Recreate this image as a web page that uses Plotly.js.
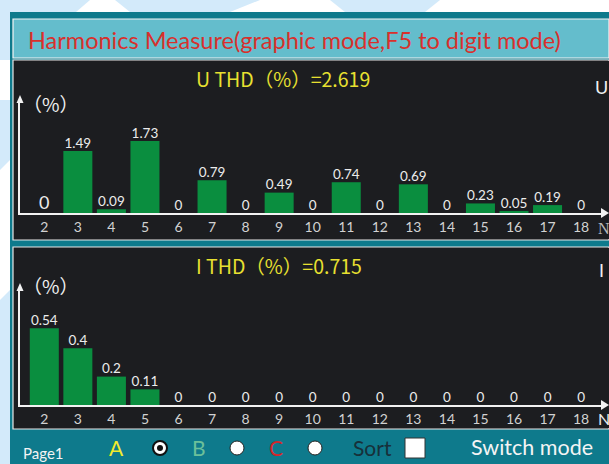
<!DOCTYPE html>
<html>
<head>
<meta charset="utf-8">
<script src="https://cdn.plot.ly/plotly-3.0.1.min.js"></script>
<style>html,body{margin:0;padding:0;background:#fff;}#chart{width:609px;height:464px;}</style>
</head>
<body>
<div id="chart"></div>
<script>
// ---- data ----
const harmonicOrders = [2,3,4,5,6,7,8,9,10,11,12,13,14,15,16,17,18];
const voltageHarmonics = [0,1.49,0.09,1.73,0,0.79,0,0.49,0,0.74,0,0.69,0,0.23,0.05,0.19,0];
const currentHarmonics = [0.54,0.4,0.2,0.11,0,0,0,0,0,0,0,0,0,0,0,0,0];
const tickLabels = ['2','3','4','5','6','7','8','9','10','11','12','13','14','15','16','17','18'];
const uThd = '2.619';
const iThd = '0.715';

// ---- geometry helpers (pixel -> paper) ----
const W = 609, H = 464;
const fx = p => p / W;
const fy = p => 1 - p / H;

const GREEN = '#0a8e3f';
const DARK = '#1c1d20';
const TEAL = '#0e7a8c';
const LTEAL = '#64bdcc';
const YEL = '#e8e030';
const LAT = 'Lato, "Noto Sans", sans-serif';
const CJK = '"Noto Sans CJK SC", Lato, sans-serif';

// x scale: order 2 at 44.3px, 33.55 px per order, axis from 20px to 601px
const x0px = 44.3, step = 33.55;
const xRange = [2 - (x0px - 20) / step, 2 + (601 - x0px) / step];

const upLabelSizes = voltageHarmonics.map((v, i) => i === 0 ? 18 : 13.5);

const traces = [
  {type:'bar', x: harmonicOrders, y: voltageHarmonics, xaxis:'x', yaxis:'y',
   marker:{color:GREEN, line:{width:0}}, hoverinfo:'skip'},
  {type:'scatter', mode:'text', x: harmonicOrders, y: voltageHarmonics, xaxis:'x', yaxis:'y',
   text: voltageHarmonics.map(String), textposition:'top center', cliponaxis:false,
   textfont:{color:'#ececec', size: upLabelSizes, family: LAT}, hoverinfo:'skip'},
  {type:'bar', x: harmonicOrders, y: currentHarmonics, xaxis:'x2', yaxis:'y2',
   marker:{color:GREEN, line:{width:0}}, hoverinfo:'skip'},
  {type:'scatter', mode:'text', x: harmonicOrders, y: currentHarmonics, xaxis:'x2', yaxis:'y2',
   text: currentHarmonics.map(String), textposition:'top center', cliponaxis:false,
   textfont:{color:'#ececec', size: 13.5, family: LAT}, hoverinfo:'skip'}
];

function xax(anchor) {
  return {domain:[fx(20), fx(601)], range:xRange, anchor:anchor, showgrid:false, zeroline:false,
    showline:true, linecolor:'#f2f2f2', linewidth:2, layer:'below traces',
    tickmode:'array', tickvals:harmonicOrders, ticktext:tickLabels, ticks:'',
    ticklabelstandoff:0,
    tickfont:{color:'#d2d2d2', size:14, family:LAT}, fixedrange:true};
}
function yax(anchor, d0, d1, rmax) {
  return {domain:[fy(d0), fy(d1)], range:[0, rmax], anchor:anchor, showgrid:false, zeroline:false,
    showline:true, linecolor:'#f2f2f2', linewidth:2, layer:'below traces',
    showticklabels:false, ticks:'', fixedrange:true};
}

const shapes = [];
function rect(x0,y0,x1,y1,fill,line,lw){shapes.push({type:'rect',xref:'paper',yref:'paper',x0:fx(x0),x1:fx(x1),y0:fy(y1),y1:fy(y0),fillcolor:fill,line:{color:line||fill,width:lw||0},layer:'below'});}
function poly(pts,fill,layer){shapes.push({type:'path',xref:'paper',yref:'paper',path:'M'+pts.map(p=>fx(p[0])+','+fy(p[1])).join('L')+'Z',fillcolor:fill,line:{width:0},layer:layer||'below'});}
function circ(cx,cy,r,fill,line,lw){shapes.push({type:'circle',xref:'paper',yref:'paper',x0:fx(cx-r),x1:fx(cx+r),y0:fy(cy+r),y1:fy(cy-r),fillcolor:fill,line:{color:line,width:lw},layer:'above'});}

// watermark background
poly([[0,0],[90,0],[20,60],[0,60]],'#d3eafa');
poly([[115,0],[260,0],[230,12],[130,12]],'#d3eafa');
poly([[330,0],[440,0],[425,12],[345,12]],'#d3eafa');
poly([[0,100],[10,100],[10,160],[0,170]],'#d3eafa');
poly([[0,300],[10,290],[10,464],[0,464]],'#d3eafa');
// frame
rect(10,12,609,464,TEAL);
rect(13,19,609,58,LTEAL,'#f4f4f4',1.2);
rect(13,60,609,240,DARK,'#e8e8e8',1.2);
rect(13,247,609,429,DARK,'#e8e8e8',1.2);
rect(14,61,609,239,DARK);
rect(14,248,609,428,DARK);
// arrow heads
poly([[601,208],[609,213],[601,218]],'#f2f2f2','above');
poly([[16.5,103],[20,95],[23.5,103]],'#f2f2f2','above');
poly([[601,400],[609,405],[601,410]],'#f2f2f2','above');
poly([[16.5,291],[20,283],[23.5,291]],'#f2f2f2','above');
// radio buttons and box
circ(160,448,7,'#ffffff','#111',2);
circ(160,448,3,'#111','#111',0);
circ(237,448,7,'#ffffff','#222',1);
circ(315,448,7,'#ffffff','#222',1);
shapes.push({type:'rect',xref:'paper',yref:'paper',x0:fx(405),x1:fx(425),y0:fy(458),y1:fy(438),fillcolor:'#ffffff',line:{color:'#333',width:1},layer:'above'});

const annotations = [];
function ann(text,x,y,size,color,family,xanchor){annotations.push({text:text,xref:'paper',yref:'paper',x:fx(x),y:fy(y),xanchor:xanchor||'left',yanchor:'middle',showarrow:false,font:{size:size,color:color,family:family||LAT}});}

ann('Harmonics Measure(graphic mode,F5 to digit mode)',26,40,23.5,'#d8302c');
ann('U THD（%）='+uThd,194,79,19.5,YEL,CJK);
ann('I THD（%）='+iThd,194,265,19.5,YEL,CJK);
ann('（%）',51,103,19,'#f0f0f0',CJK,'center');
ann('（%）',51,285,19,'#f0f0f0',CJK,'center');
ann('U',593,87,18,'#f0f0f0');
ann('I',597,270,18,'#f0f0f0');
ann('N',604,228,16,'#b8b8b8','"Liberation Serif", serif','center');
ann('N',604,418,16,'#eeeeee',LAT,'center');
ann('Page1',21,453,15,'#f4f4f4');
ann('A',116,447,21,'#f2ea2c',LAT,'center');
ann('B',199,447,21,'#6cc09a',LAT,'center');
ann('C',276,447,21,'#d5262a',LAT,'center');
ann('Sort',351,447,21,'#17303a');
ann('Switch mode',469,447,21.5,'#f4f4f4');

const layout = {
  width:W, height:H, margin:{l:0,r:0,t:0,b:0}, paper_bgcolor:'#ffffff', plot_bgcolor:'rgba(0,0,0,0)',
  showlegend:false, bargap:0.135,
  xaxis: xax('y'), yaxis: yax('x',213,101,112/41.6),
  xaxis2: xax('y2'), yaxis2: yax('x2',405,289,116/142),
  shapes:shapes, annotations:annotations
};
Plotly.newPlot('chart', traces, layout, {staticPlot:true, displayModeBar:false});
</script>
</body>
</html>
